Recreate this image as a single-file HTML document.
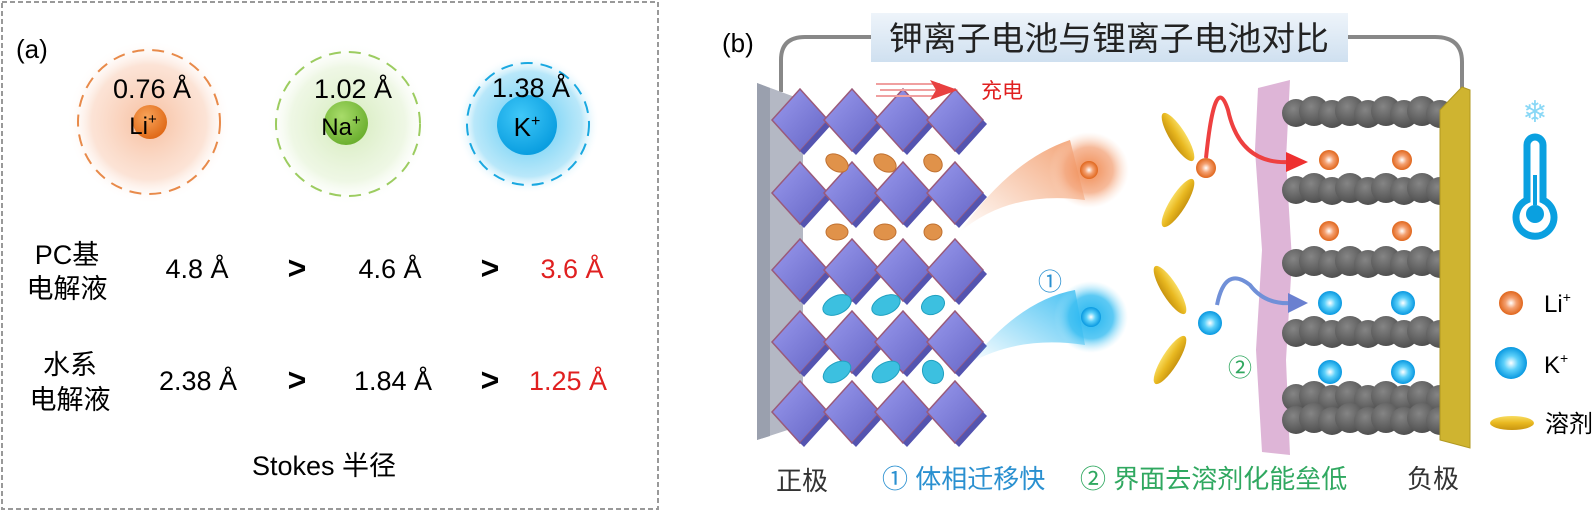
<!DOCTYPE html>
<html><head><meta charset="utf-8"><style>
html,body{margin:0;padding:0;background:#fff;}
svg{display:block;}
text{font-family:"Liberation Sans","Noto Sans CJK SC",sans-serif;}
</style></head><body>
<svg width="1596" height="512" viewBox="0 0 1596 512" xmlns="http://www.w3.org/2000/svg">
<defs>
<radialGradient id="gO" cx="50%" cy="50%" r="50%"><stop offset="0" stop-color="#f08a50" stop-opacity=".55"/><stop offset=".7" stop-color="#f6b08a" stop-opacity=".35"/><stop offset="1" stop-color="#fff" stop-opacity="0"/></radialGradient>
<radialGradient id="gG" cx="50%" cy="50%" r="50%"><stop offset="0" stop-color="#b6dc8a" stop-opacity=".6"/><stop offset=".7" stop-color="#d6ecbe" stop-opacity=".4"/><stop offset="1" stop-color="#fff" stop-opacity="0"/></radialGradient>
<radialGradient id="gB" cx="50%" cy="50%" r="50%"><stop offset="0" stop-color="#3cc0f2" stop-opacity=".9"/><stop offset=".75" stop-color="#8ad8f6" stop-opacity=".6"/><stop offset="1" stop-color="#fff" stop-opacity="0"/></radialGradient>
<radialGradient id="bO" cx="40%" cy="35%" r="65%"><stop offset="0" stop-color="#f8a45a"/><stop offset="1" stop-color="#e06a18"/></radialGradient>
<radialGradient id="bG" cx="40%" cy="35%" r="65%"><stop offset="0" stop-color="#a8dc6a"/><stop offset="1" stop-color="#6cb030"/></radialGradient>
<radialGradient id="bB" cx="40%" cy="35%" r="65%"><stop offset="0" stop-color="#40c8f8"/><stop offset="1" stop-color="#0a9ee0"/></radialGradient>
<radialGradient id="ionO" cx="50%" cy="50%" r="50%"><stop offset="0" stop-color="#fff"/><stop offset=".45" stop-color="#f4a070"/><stop offset="1" stop-color="#e0661c"/></radialGradient>
<radialGradient id="ionB" cx="50%" cy="50%" r="50%"><stop offset="0" stop-color="#fff"/><stop offset=".45" stop-color="#5cd0fa"/><stop offset="1" stop-color="#0898e0"/></radialGradient>
<radialGradient id="cO" cx="50%" cy="50%" r="50%"><stop offset="0" stop-color="#f08a50"/><stop offset=".6" stop-color="#f4a880" stop-opacity=".8"/><stop offset="1" stop-color="#fbd8c4" stop-opacity="0"/></radialGradient>
<radialGradient id="cB" cx="50%" cy="50%" r="50%"><stop offset="0" stop-color="#20b4f0"/><stop offset=".6" stop-color="#40c0f2" stop-opacity=".85"/><stop offset="1" stop-color="#b0e6fa" stop-opacity="0"/></radialGradient>
<linearGradient id="tO" x1="1" y1="0" x2="0" y2="1"><stop offset="0" stop-color="#f08a50"/><stop offset="1" stop-color="#f08a50" stop-opacity="0"/></linearGradient>
<linearGradient id="tB" x1="1" y1="0" x2="0" y2="1"><stop offset="0" stop-color="#20b4f0"/><stop offset="1" stop-color="#20b4f0" stop-opacity="0"/></linearGradient>
<radialGradient id="gr" cx="40%" cy="35%" r="65%"><stop offset="0" stop-color="#858585"/><stop offset="1" stop-color="#505050"/></radialGradient>
<linearGradient id="sol" x1="0" y1="0" x2="0" y2="1"><stop offset="0" stop-color="#f8dc60"/><stop offset=".5" stop-color="#e8b820"/><stop offset="1" stop-color="#c89410"/></linearGradient>
<linearGradient id="dia" x1="0" y1="0" x2="1" y2="1"><stop offset="0" stop-color="#9a9aee"/><stop offset="1" stop-color="#6464c4"/></linearGradient>
<linearGradient id="ttl" x1="0" y1="0" x2="0" y2="1"><stop offset="0" stop-color="#eef4fa"/><stop offset="1" stop-color="#cfe0f0"/></linearGradient>
<g id="d"><polygon points="0,-31 28,0 0,31 -28,0" fill="url(#dia)" stroke="#9a5a7a" stroke-width="1.5"/><polygon points="28,0 32,4 4,35 0,31" fill="#5454b0"/></g>
<g id="grow">
<circle cx="0" cy="0" r="14" fill="url(#gr)"/><circle cx="18" cy="-2" r="15" fill="url(#gr)"/><circle cx="36" cy="1" r="14" fill="url(#gr)"/><circle cx="54" cy="-2" r="15" fill="url(#gr)"/><circle cx="72" cy="1" r="14" fill="url(#gr)"/><circle cx="90" cy="-2" r="15" fill="url(#gr)"/><circle cx="108" cy="1" r="14" fill="url(#gr)"/><circle cx="126" cy="-2" r="15" fill="url(#gr)"/><circle cx="144" cy="1" r="14" fill="url(#gr)"/><circle cx="160" cy="0" r="12" fill="url(#gr)"/>
</g>
</defs>

<!-- Panel a -->
<rect x="2" y="2" width="656" height="507" fill="none" stroke="#999" stroke-width="2" stroke-dasharray="5,3"/>
<text x="16" y="58" font-size="26">(a)</text>
<ellipse cx="149" cy="122" rx="82" ry="82" fill="url(#gO)"/>
<ellipse cx="149" cy="122" rx="71" ry="72" fill="none" stroke="#e88a4a" stroke-width="2" stroke-dasharray="12,8"/>
<ellipse cx="348" cy="124" rx="82" ry="82" fill="url(#gG)"/>
<ellipse cx="348" cy="124" rx="72" ry="72" fill="none" stroke="#9ccc60" stroke-width="2" stroke-dasharray="12,8"/>
<ellipse cx="528" cy="124" rx="72" ry="70" fill="url(#gB)"/>
<ellipse cx="528" cy="124" rx="61" ry="61" fill="none" stroke="#1aa8e0" stroke-width="2" stroke-dasharray="12,8"/>
<circle cx="150" cy="122" r="17" fill="url(#bO)"/>
<circle cx="346" cy="123" r="22" fill="url(#bG)"/>
<circle cx="527" cy="125" r="30" fill="url(#bB)"/>
<text x="152" y="98" font-size="27" text-anchor="middle">0.76 Å</text>
<text x="353" y="98" font-size="27" text-anchor="middle">1.02 Å</text>
<text x="531" y="97" font-size="27" text-anchor="middle">1.38 Å</text>
<text x="143" y="134" font-size="24" text-anchor="middle">Li<tspan font-size="15" dy="-10">+</tspan></text>
<text x="341" y="135" font-size="24" text-anchor="middle">Na<tspan font-size="15" dy="-10">+</tspan></text>
<text x="527" y="136" font-size="26" text-anchor="middle">K<tspan font-size="16" dy="-10">+</tspan></text>

<g font-size="27">
<text x="67" y="264" text-anchor="middle">PC基</text>
<text x="67" y="298" text-anchor="middle">电解液</text>
<text x="197" y="278" text-anchor="middle">4.8 Å</text>
<text x="297" y="279" text-anchor="middle" font-size="32" font-weight="bold">&gt;</text>
<text x="390" y="278" text-anchor="middle">4.6 Å</text>
<text x="490" y="279" text-anchor="middle" font-size="32" font-weight="bold">&gt;</text>
<text x="572" y="278" text-anchor="middle" fill="#e02020">3.6 Å</text>
<text x="70" y="374" text-anchor="middle">水系</text>
<text x="70" y="409" text-anchor="middle">电解液</text>
<text x="198" y="390" text-anchor="middle">2.38 Å</text>
<text x="297" y="391" text-anchor="middle" font-size="32" font-weight="bold">&gt;</text>
<text x="393" y="390" text-anchor="middle">1.84 Å</text>
<text x="490" y="391" text-anchor="middle" font-size="32" font-weight="bold">&gt;</text>
<text x="568" y="390" text-anchor="middle" fill="#e02020">1.25 Å</text>
<text x="324" y="475" text-anchor="middle">Stokes 半径</text>
</g>

<!-- Panel b -->
<text x="722" y="52" font-size="26">(b)</text>
<path d="M781 92 V60 Q781 37 805 37 H880" fill="none" stroke="#888" stroke-width="4"/>
<path d="M1340 37 H1435 Q1462 37 1462 62 V88" fill="none" stroke="#888" stroke-width="4"/>
<rect x="871" y="13" width="477" height="49" fill="url(#ttl)"/>
<text x="1109" y="50" font-size="33" text-anchor="middle" fill="#222" textLength="440" lengthAdjust="spacingAndGlyphs">钾离子电池与锂离子电池对比</text>

<!-- cathode -->
<polygon points="757,83 803,100 803,425 757,440" fill="#b4b8c4"/>
<polygon points="757,83 770,88 770,436 757,440" fill="#9aa0ae"/>
<g>
<use href="#d" x="800" y="120"/><use href="#d" x="852" y="120"/><use href="#d" x="903" y="120"/><use href="#d" x="955" y="120"/>
<use href="#d" x="800" y="193"/><use href="#d" x="852" y="193"/><use href="#d" x="903" y="193"/><use href="#d" x="955" y="193"/>
<use href="#d" x="800" y="270"/><use href="#d" x="852" y="270"/><use href="#d" x="903" y="270"/><use href="#d" x="955" y="270"/>
<use href="#d" x="800" y="342"/><use href="#d" x="852" y="342"/><use href="#d" x="903" y="342"/><use href="#d" x="955" y="342"/>
<use href="#d" x="800" y="412"/><use href="#d" x="852" y="412"/><use href="#d" x="903" y="412"/><use href="#d" x="955" y="412"/>
</g>
<g fill="#e0924a" stroke="#c07030" stroke-width="1">
<ellipse cx="837" cy="163" rx="12" ry="8" transform="rotate(30 837 163)"/><ellipse cx="885" cy="163" rx="12" ry="8" transform="rotate(30 885 163)"/><ellipse cx="933" cy="163" rx="10" ry="8" transform="rotate(40 933 163)"/>
<ellipse cx="837" cy="232" rx="11" ry="8"/><ellipse cx="885" cy="232" rx="11" ry="8"/><ellipse cx="933" cy="232" rx="9" ry="8"/>
</g>
<g fill="#3cc0e0" stroke="#20a0c0" stroke-width="1">
<ellipse cx="837" cy="305" rx="15" ry="9" transform="rotate(-25 837 305)"/><ellipse cx="886" cy="305" rx="15" ry="9" transform="rotate(-25 886 305)"/><ellipse cx="933" cy="305" rx="12" ry="9" transform="rotate(-25 933 305)"/>
<ellipse cx="837" cy="372" rx="15" ry="9" transform="rotate(-30 837 372)"/><ellipse cx="886" cy="372" rx="15" ry="9" transform="rotate(-30 886 372)"/><ellipse cx="933" cy="372" rx="10" ry="12" transform="rotate(-30 933 372)"/>
</g>
<!-- charge arrow -->
<path d="M876 84 H940 M880 90 H940 M876 96 H935" stroke="#f0a0a0" stroke-width="2"/>
<polygon points="930,80 958,90 930,100 936,90" fill="#e84040"/>
<text x="1002" y="98" font-size="21" fill="#e02020" text-anchor="middle">充电</text>

<!-- comets -->
<path d="M960 232 Q1010 160 1070 140 L1085 200 Q1010 190 960 232 Z" fill="url(#tO)" opacity=".8"/>
<ellipse cx="1089" cy="170" rx="40" ry="38" fill="url(#cO)"/>
<circle cx="1089" cy="170" r="9" fill="url(#ionO)"/>
<path d="M970 363 Q1020 300 1075 290 L1085 345 Q1020 335 970 363 Z" fill="url(#tB)" opacity=".85"/>
<ellipse cx="1091" cy="317" rx="37" ry="36" fill="url(#cB)"/>
<circle cx="1091" cy="317" r="10" fill="url(#ionB)"/>
<text x="1050" y="290" font-size="24" fill="#2a90d0" text-anchor="middle">①</text>

<!-- solvents -->
<ellipse cx="1178" cy="137" rx="28" ry="8" fill="url(#sol)" transform="rotate(58 1178 137)"/>
<ellipse cx="1178" cy="203" rx="28" ry="8" fill="url(#sol)" transform="rotate(-58 1178 203)"/>
<ellipse cx="1170" cy="290" rx="28" ry="8" fill="url(#sol)" transform="rotate(58 1170 290)"/>
<ellipse cx="1170" cy="360" rx="28" ry="8" fill="url(#sol)" transform="rotate(-58 1170 360)"/>
<circle cx="1206" cy="168" r="10" fill="url(#ionO)"/>
<circle cx="1210" cy="323" r="12" fill="url(#ionB)"/>
<text x="1240" y="376" font-size="24" fill="#30a860" text-anchor="middle">②</text>

<!-- SEI -->
<path d="M1258 88 L1290 80 L1286 160 L1292 260 L1286 360 L1290 455 L1262 452 L1256 350 L1262 250 L1255 150 Z" fill="#d8a8d0" opacity=".85"/>

<!-- curves -->
<path d="M1206 158 Q1215 70 1228 110 Q1240 165 1290 162" fill="none" stroke="#ee4040" stroke-width="4"/>
<polygon points="1286,152 1308,162 1286,172" fill="#ee3030"/>
<path d="M1217 305 Q1225 265 1250 285 Q1265 305 1292 303" fill="none" stroke="#7090d8" stroke-width="4"/>
<polygon points="1288,293 1308,303 1288,313" fill="#6a80d0"/>

<!-- graphite -->
<use href="#grow" x="1296" y="113"/>
<use href="#grow" x="1296" y="190"/>
<use href="#grow" x="1296" y="263"/>
<use href="#grow" x="1296" y="333"/>
<use href="#grow" x="1296" y="398"/>
<use href="#grow" x="1296" y="420"/>
<polygon points="1462,87 1470,90 1470,448 1440,440 1440,110" fill="#cfb430" stroke="#b09820" stroke-width="1"/>
<g>
<circle cx="1329" cy="160" r="10" fill="url(#ionO)"/><circle cx="1402" cy="160" r="10" fill="url(#ionO)"/>
<circle cx="1329" cy="231" r="10" fill="url(#ionO)"/><circle cx="1402" cy="231" r="10" fill="url(#ionO)"/>
<circle cx="1330" cy="303" r="12" fill="url(#ionB)"/><circle cx="1403" cy="303" r="12" fill="url(#ionB)"/>
<circle cx="1330" cy="372" r="12" fill="url(#ionB)"/><circle cx="1403" cy="372" r="12" fill="url(#ionB)"/>
</g>

<!-- thermometer -->
<text x="1535" y="122" font-size="30" fill="#8ad8f6" text-anchor="middle">❄</text>
<path d="M1527 200 V145 A8 8 0 0 1 1543 145 V200 A19 19 0 1 1 1527 200 Z" fill="none" stroke="#0aa0e0" stroke-width="7"/>
<rect x="1533" y="175" width="4" height="30" fill="#0aa0e0"/>
<circle cx="1535" cy="214" r="9" fill="#0aa0e0"/>

<!-- legend -->
<circle cx="1511" cy="303" r="12" fill="url(#ionO)"/>
<text x="1544" y="312" font-size="24">Li<tspan font-size="14" dy="-10">+</tspan></text>
<circle cx="1511" cy="363" r="16" fill="url(#ionB)"/>
<text x="1544" y="373" font-size="24">K<tspan font-size="14" dy="-10">+</tspan></text>
<ellipse cx="1512" cy="423" rx="22" ry="7" fill="url(#sol)"/>
<text x="1545" y="432" font-size="24">溶剂</text>

<!-- bottom labels -->
<g font-size="26">
<text x="776" y="490" fill="#333">正极</text>
<text x="882" y="488" fill="#2a90d0">① 体相迁移快</text>
<text x="1080" y="488" fill="#30a860">② 界面去溶剂化能垒低</text>
<text x="1407" y="488" fill="#333">负极</text>
</g>
</svg>
</body></html>
